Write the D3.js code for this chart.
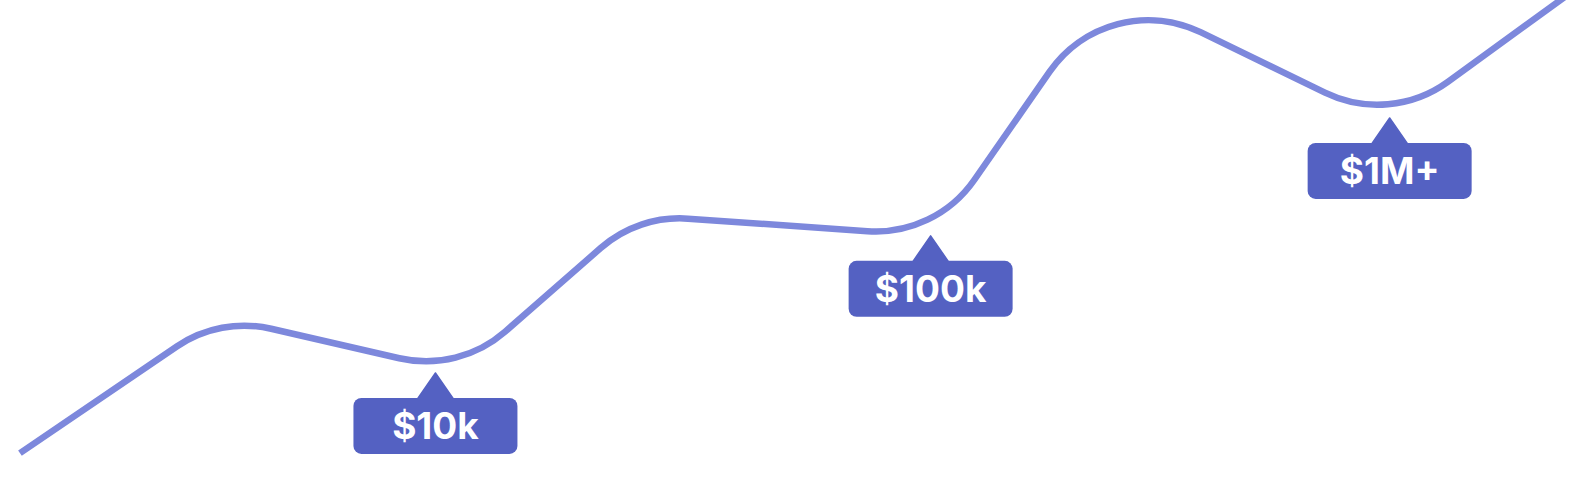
<!DOCTYPE html>
<html>
<head>
<meta charset="utf-8">
<script src="https://cdn.jsdelivr.net/npm/d3@7"></script>
<style>
  html, body { margin: 0; padding: 0; background: #fff; }
  svg { display: block; }
</style>
</head>
<body>
<script>
// canvas size
var width = 1572,
    height = 504;

// growth path: turning points (x = progress 0-100, y = growth index 0-100)
var stepX = [1.27, 14.0, 29.2, 40.6, 59.5, 70.5, 88.4, 100.6];
var stepY = [10.1, 37.1, 26.2, 57.3, 53.2, 102.5, 75.4, 103.0];

// milestone badges
var labels = ["$10k", "$100k", "$1M+"];
var labelX = [27.7, 59.2, 88.4];
var labelY = [26.0, 53.2, 76.6];

var xScale = d3.scaleLinear().domain([0, 100]).range([0, width]);
var yScale = d3.scaleLinear().domain([0, 100]).range([height, 0]);

var svg = d3.select("body").append("svg")
    .attr("width", width)
    .attr("height", height);

// polyline with rounded corners, built with d3.path arcTo
var pts = stepX.map(function(d, i) { return [xScale(d), yScale(stepY[i])]; });
var corner = 120;
var p = d3.path();
p.moveTo(pts[0][0], pts[0][1]);
for (var i = 1; i < pts.length - 1; i++) {
  p.arcTo(pts[i][0], pts[i][1], pts[i + 1][0], pts[i + 1][1], corner);
}
p.lineTo(pts[pts.length - 1][0], pts[pts.length - 1][1]);

svg.append("path")
    .attr("d", p.toString())
    .attr("fill", "none")
    .attr("stroke", "#7d88dc")
    .attr("stroke-width", 6.5)
    .attr("stroke-linecap", "butt");

// badges: a pointer above a rounded box
var boxW = 164, boxH = 56, pointerH = 25, pointerW = 18;

var badge = svg.selectAll("g.badge")
    .data(labels)
    .enter().append("g")
    .attr("class", "badge")
    .attr("transform", function(d, i) {
      return "translate(" + xScale(labelX[i]) + "," + yScale(labelY[i]) + ")";
    });

badge.append("path")
    .attr("d", "M0,0 L" + pointerW + "," + (pointerH + 1) + " L" + (-pointerW) + "," + (pointerH + 1) + " Z")
    .attr("fill", "#5461c2")
    .attr("stroke", "#5461c2")
    .attr("stroke-width", 1.5)
    .attr("stroke-linejoin", "round");

badge.append("rect")
    .attr("x", -boxW / 2)
    .attr("y", pointerH)
    .attr("width", boxW)
    .attr("height", boxH)
    .attr("rx", 8)
    .attr("fill", "#5461c2");

badge.append("text")
    .attr("x", 0)
    .attr("y", pointerH + boxH / 2)
    .attr("dy", "0.36em")
    .attr("text-anchor", "middle")
    .attr("fill", "#fff")
    .style("font-family", "Inter, 'Noto Sans', sans-serif")
    .style("font-weight", 700)
    .style("font-size", "37px")
    .text(function(d) { return d; });
</script>
</body>
</html>
